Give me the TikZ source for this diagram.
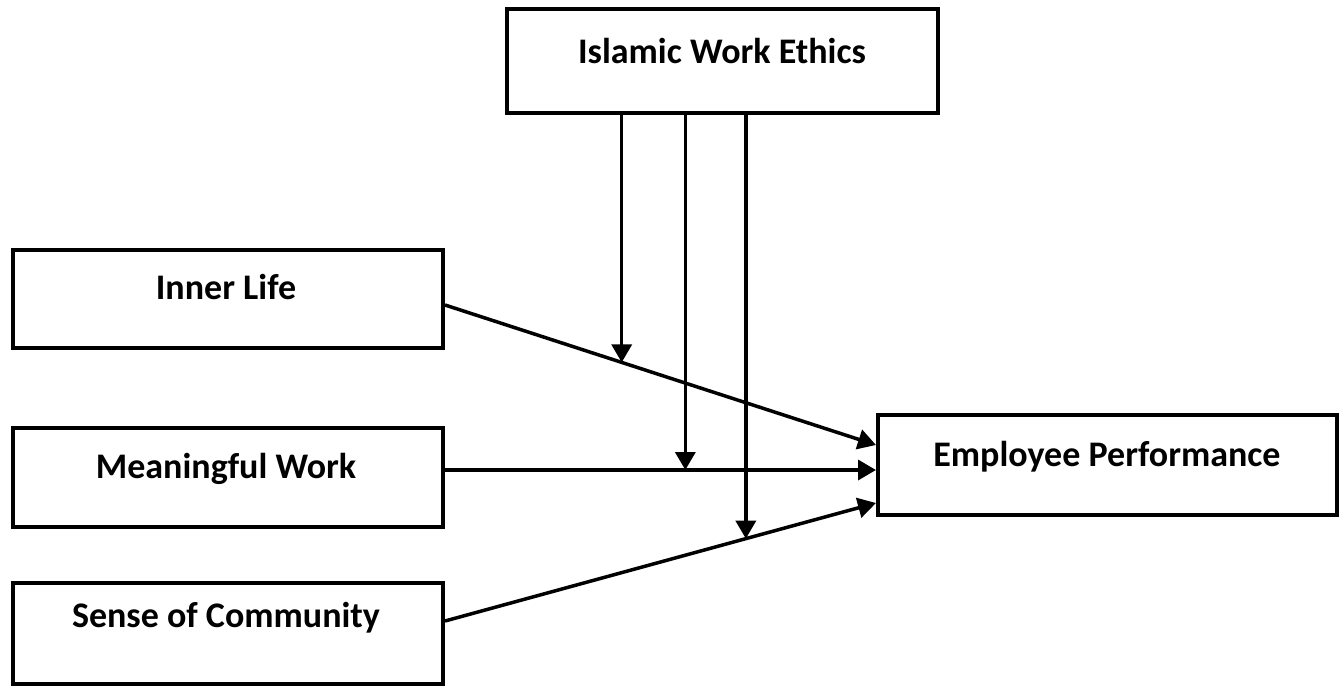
\documentclass[tikz,border=0pt]{standalone}
\usepackage{fontspec}
\setmainfont{Carlito}
\usetikzlibrary{arrows.meta}
\begin{document}
\begin{tikzpicture}[x=1pt,y=-1pt,
  box/.style={draw=black,line width=4pt,inner sep=0pt,fill=white},
  lbl/.style={anchor=base,inner sep=0pt,font=\fontsize{36}{43}\selectfont\bfseries},
  arr/.style={line width=3.5pt,-{Triangle[length=18pt,width=20pt]}}]
\fill[white] (0,0) rectangle (1339,686);
\useasboundingbox (0,0) rectangle (1339,686);
% boxes
\node[box,minimum width=431pt,minimum height=104pt] (iwe) at (722.5,61) {};
\node[box,minimum width=430pt,minimum height=98pt] (il) at (228,299) {};
\node[box,minimum width=430pt,minimum height=99pt] (mw) at (228,477.5) {};
\node[box,minimum width=430pt,minimum height=101pt] (sc) at (228,633.5) {};
\node[box,minimum width=459pt,minimum height=100pt] (ep) at (1107.5,465) {};
% labels
\node[lbl] (iwet) at (722,63.5) {Islamic Work Ethics};
\node[lbl] (ilt) at (226,299.5) {Inner Life};
\node[lbl] (mwt) at (226,478.5) {Meaningful Work};
\node[lbl] (sct) at (226,627) {Sense of Community};
\node[lbl] (ept) at (1107,466.5) {Employee Performance};
% main paths
\draw[arr] ([yshift=-6pt]il.east) -- ([yshift=20pt]ep.west)
  coordinate[pos=0.41] (m1);
\draw[arr] ([yshift=7.5pt]mw.east) -- ([yshift=-5pt]ep.west)
  coordinate[pos=0.5576] (m2);
\draw[arr] ([yshift=12.5pt]sc.east) -- ([yshift=-38pt]ep.west)
  coordinate[pos=0.698] (m3);
% moderating arrows
\draw[arr] (iwe.south -| m1) -- (m1);
\draw[arr] (iwe.south -| m2) -- (m2);
\draw[arr] (iwe.south -| m3) -- (m3);
\end{tikzpicture}
\end{document}
